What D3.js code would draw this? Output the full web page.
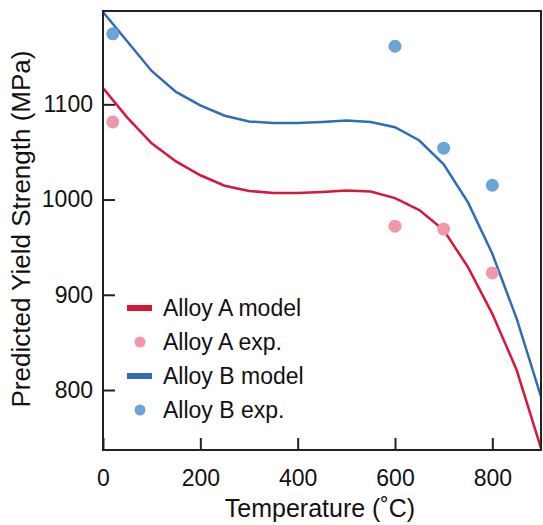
<!DOCTYPE html>
<html>
<head>
<meta charset="utf-8">
<script src="https://cdn.jsdelivr.net/npm/d3@7"></script>
<style>
  html, body { margin: 0; padding: 0; background: #fff; }
  svg { display: block; }
  text { font-family: "Liberation Sans", Arial, Helvetica, sans-serif; fill: #111; }
</style>
</head>
<body>
<svg id="chart" width="543" height="525"></svg>
<script>
// ---- data ----
const modelTemps = [0, 50, 100, 150, 200, 250, 300, 350, 400, 450, 500, 550, 600, 650, 700, 750, 800, 850, 900];
const alloyAModel = [1117, 1086, 1059, 1040, 1025.5, 1014.5, 1009, 1007, 1007, 1008, 1009.5, 1008.5, 1001.5, 989, 968, 929, 880, 821, 739];
const alloyBModel = [1197, 1166, 1135, 1113, 1099, 1088, 1082, 1080.5, 1080.5, 1081.5, 1083, 1081.5, 1076, 1062, 1037, 997, 943, 875, 793];
const expTemps = [20, 600, 700, 800];
const alloyAExp = [1081.5, 972, 969, 923];
const alloyBExp = [1174, 1161, 1054, 1015];
const xTicks = [0, 200, 400, 600, 800];
const yTicks = [800, 900, 1000, 1100];
const legendLabels = ["Alloy A model", "Alloy A exp.", "Alloy B model", "Alloy B exp."];

const colors = { aLine: "#d8173b", aDot: "#f197aa", bLine: "#2f6db4", bDot: "#6aa5d8" };

const svg = d3.select("#chart");
const L = 103, R = 541, T = 11, B = 450;

const x = d3.scaleLinear().domain([0, 900]).range([L, R]);
const y = d3.scaleLinear().domain([737, 1198]).range([B, T]);

// clip
svg.append("clipPath").attr("id", "clip")
  .append("rect").attr("x", L).attr("y", T).attr("width", R - L).attr("height", B - T);

const line = d3.line().x(d => x(d[0])).y(d => y(d[1]));
const g = svg.append("g").attr("clip-path", "url(#clip)");

g.append("path").datum(modelTemps.map((t, i) => [t, alloyBModel[i]]))
  .attr("d", line).attr("fill", "none").attr("stroke", colors.bLine).attr("stroke-width", 2.5);
g.append("path").datum(modelTemps.map((t, i) => [t, alloyAModel[i]]))
  .attr("d", line).attr("fill", "none").attr("stroke", colors.aLine).attr("stroke-width", 2.5);

g.selectAll("circle.b").data(expTemps.map((t, i) => [t, alloyBExp[i]])).enter()
  .append("circle").attr("class", "b").attr("cx", d => x(d[0])).attr("cy", d => y(d[1]))
  .attr("r", 6.5).attr("fill", colors.bDot);
g.selectAll("circle.a").data(expTemps.map((t, i) => [t, alloyAExp[i]])).enter()
  .append("circle").attr("class", "a").attr("cx", d => x(d[0])).attr("cy", d => y(d[1]))
  .attr("r", 6.5).attr("fill", colors.aDot);

// axes (ticks inward)
const xAxis = d3.axisBottom(x).tickValues(xTicks).tickSize(-12).tickPadding(20).tickFormat(d3.format("d"));
const yAxis = d3.axisLeft(y).tickValues(yTicks).tickSize(-12).tickPadding(10).tickFormat(d3.format("d"));

const gx = svg.append("g").attr("transform", `translate(0,${B})`).call(xAxis);
const gy = svg.append("g").attr("transform", `translate(${L},0)`).call(yAxis);
[gx, gy].forEach(a => {
  a.select(".domain").remove();
  a.selectAll(".tick line").attr("stroke", "#222").attr("stroke-width", 2);
  a.selectAll(".tick text").attr("font-size", 23).style("font-family", '"Liberation Sans", Arial, sans-serif').attr("fill", "#111");
});

// frame
svg.append("rect").attr("x", L).attr("y", T).attr("width", R - L).attr("height", B - T)
  .attr("fill", "none").attr("stroke", "#222").attr("stroke-width", 2);

// titles
svg.append("text").attr("x", 320).attr("y", 517).attr("text-anchor", "middle")
  .attr("font-size", 25).text("Temperature (˚C)");
svg.append("text").attr("transform", "translate(30,229) rotate(-90)").attr("text-anchor", "middle")
  .attr("font-size", 26).text("Predicted Yield Strength (MPa)");

// legend
const legendY = [308, 342, 376, 410];
const types = ["line", "dot", "line", "dot"];
const lcolors = [colors.aLine, colors.aDot, colors.bLine, colors.bDot];
const lg = svg.append("g");
legendLabels.forEach((lab, i) => {
  if (types[i] === "line") {
    lg.append("line").attr("x1", 127).attr("x2", 152).attr("y1", legendY[i]).attr("y2", legendY[i])
      .attr("stroke", lcolors[i]).attr("stroke-width", 6);
  } else {
    lg.append("circle").attr("cx", 140).attr("cy", legendY[i]).attr("r", 5.5).attr("fill", lcolors[i]);
  }
  lg.append("text").attr("x", 163).attr("y", legendY[i]).attr("dy", "0.35em")
    .attr("font-size", 23).text(lab);
});
</script>
</body>
</html>
